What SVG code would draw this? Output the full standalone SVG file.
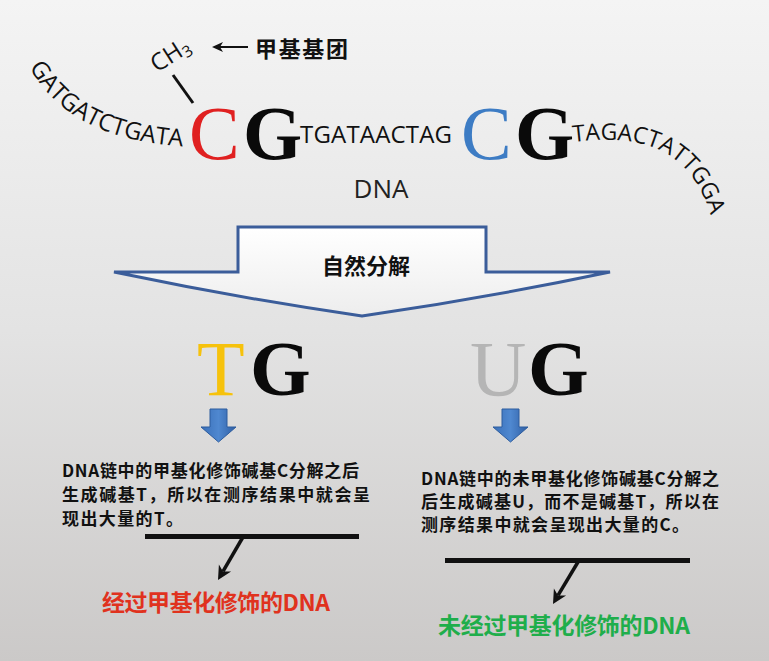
<svg xmlns="http://www.w3.org/2000/svg" width="769" height="661" viewBox="0 0 769 661">
<defs>
<linearGradient id="bg" x1="0" y1="0" x2="0" y2="1">
<stop offset="0" stop-color="#f4f4f4"/>
<stop offset="0.5" stop-color="#e3e3e3"/>
<stop offset="1" stop-color="#cbc9c8"/>
</linearGradient>
<linearGradient id="bigArrowFill" x1="0" y1="0" x2="0" y2="1">
<stop offset="0" stop-color="#ffffff"/>
<stop offset="1" stop-color="#ededed"/>
</linearGradient>
<linearGradient id="blueFill" x1="0" y1="0" x2="1" y2="0">
<stop offset="0" stop-color="#3a6fb8"/>
<stop offset="0.5" stop-color="#4f88d0"/>
<stop offset="1" stop-color="#2f5ea3"/>
</linearGradient>
<path id="leftArc" d="M 29,67 C 60,120 110,142 190,147"/>
<path id="rightArc" d="M 573,142 C 645,133 693,150 712,220"/>
<style>
.seq{font-family:"Open Sans","Noto Sans",sans-serif;font-size:24px;fill:#111}
.big{font-family:"Liberation Serif","Times New Roman",serif;font-size:76px}
.bigb{font-family:"Liberation Serif","Times New Roman",serif;font-size:76px;font-weight:bold;fill:#0a0a0a}
.cn{font-family:"Noto Sans CJK SC","Noto Sans",sans-serif;font-weight:bold;fill:#111}
.para{font-family:"Noto Sans CJK SC","Noto Sans",sans-serif;font-weight:bold;fill:#111;font-size:17px}
.bar{stroke:#111;stroke-width:5}
.pointer{stroke:#111;stroke-width:3.5;fill:none}
.head{fill:#111}
.blue{fill:url(#blueFill);stroke:#2d5c9e;stroke-width:1}
</style>
</defs>
<rect x="0" y="0" width="769" height="661" fill="url(#bg)"/>

<g id="dna-sequence">
<text class="seq"><textPath href="#leftArc">GATGATCTGATA</textPath></text>
<text class="big" x="189" y="159" fill="#e02020">C</text>
<text class="bigb" x="243" y="159">G</text>
<text class="seq" x="300" y="143" textLength="152" lengthAdjust="spacing">TGATAACTAG</text>
<text class="big" x="461" y="159" fill="#3d7cc4">C</text>
<text class="bigb" x="515" y="159">G</text>
<text class="seq" style="font-size:23px"><textPath href="#rightArc">TAGACTATTGGA</textPath></text>
</g>

<g id="methyl">
<text class="seq" style="font-size:24px" transform="translate(157,73) rotate(-33)">CH<tspan style="font-size:16px" dy="4">3</tspan></text>
<line x1="173" y1="75" x2="193" y2="103" stroke="#111" stroke-width="3"/>
</g>

<g id="methyl-label">
<text class="cn" x="255" y="57" style="font-size:22px" textLength="93" lengthAdjust="spacing">甲基基团</text>
</g>

<g id="dna-label">
<text class="seq" x="381" y="198" text-anchor="middle" style="font-size:26px;fill:#222">DNA</text>
</g>

<g id="decompose">
<path d="M114,272 L238,272 L238,227 L486,227 L486,272 L610,272 Q 486,298 362,316 Q 238,298 114,272 Z" fill="url(#bigArrowFill)" stroke="#3b5d9a" stroke-width="3" stroke-linejoin="miter"/>
<text class="cn" x="366" y="274" text-anchor="middle" style="font-size:22px">自然分解</text>
</g>

<g id="tg">
<text class="big" x="197" y="395" style="font-size:78px" fill="#f6c20c">T</text>
<text class="bigb" x="250" y="395" style="font-size:78px">G</text>
</g>

<g id="ug">
<text class="big" x="470" y="395" style="font-size:78px" fill="#b5b5b5">U</text>
<text class="bigb" x="528" y="395" style="font-size:78px">G</text>
</g>

<g id="left-text">
<text class="para" x="62" y="477" textLength="297" lengthAdjust="spacing">DNA链中的甲基化修饰碱基C分解之后</text>
<text class="para" x="62" y="501" textLength="308" lengthAdjust="spacing">生成碱基T，所以在测序结果中就会呈</text>
<text class="para" x="62" y="525" textLength="121" lengthAdjust="spacing">现出大量的T。</text>
</g>

<g id="right-text">
<text class="para" x="421" y="485" textLength="298" lengthAdjust="spacing">DNA链中的未甲基化修饰碱基C分解之</text>
<text class="para" x="421" y="508" textLength="298" lengthAdjust="spacing">后生成碱基U，而不是碱基T，所以在</text>
<text class="para" x="421" y="531" textLength="268" lengthAdjust="spacing">测序结果中就会呈现出大量的C。</text>
</g>

<g id="left-result">
<text class="cn" x="102" y="611" style="font-size:23px;fill:#e0321e" textLength="228" lengthAdjust="spacing">经过甲基化修饰的DNA</text>
</g>

<g id="right-result">
<text class="cn" x="438" y="634" style="font-size:23px;fill:#1fae4b" textLength="252" lengthAdjust="spacing">未经过甲基化修饰的DNA</text>
</g>

<g id="connectors">
<line x1="248" y1="47" x2="219" y2="47" stroke="#111" stroke-width="2"/>
<polygon points="212,47 223,42 220,47 223,52" class="head"/>
<path d="M210,409 L227,409 L227,427 L236,427 L218.5,442 L201,427 L210,427 Z" class="blue"/>
<path d="M502,409 L519,409 L519,427 L528,427 L510.5,442 L493,427 L502,427 Z" class="blue"/>
<line x1="145" y1="536.5" x2="359" y2="536.5" class="bar"/>
<line x1="243" y1="537" x2="223" y2="571.4" class="pointer"/>
<polygon points="218,580 231.1,571.4 223,571.4 218.9,564.4" class="head"/>
<line x1="445" y1="560.5" x2="690" y2="560.5" class="bar"/>
<line x1="578" y1="562" x2="558" y2="595.4" class="pointer"/>
<polygon points="553,604 566.1,595.4 558,595.4 553.9,588.4" class="head"/>
</g>
</svg>
